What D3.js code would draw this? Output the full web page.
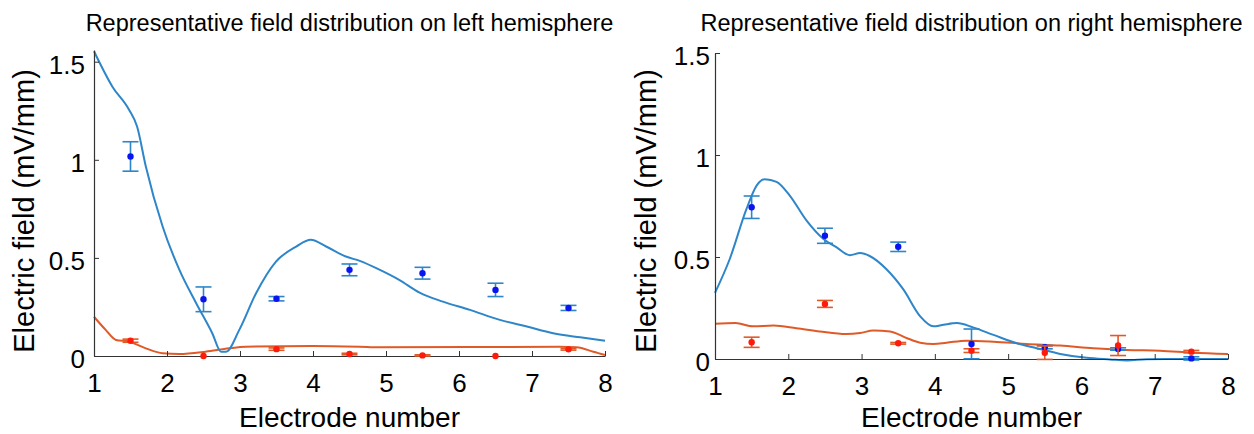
<!DOCTYPE html>
<html><head><meta charset="utf-8">
<script src="https://cdn.jsdelivr.net/npm/d3@7"></script>
<style>
body{margin:0;background:#fff}
svg{display:block}
text{font-family:"Liberation Sans",Arial,Helvetica,sans-serif;fill:#000}
</style>
</head><body>
<svg id="chart" width="1254" height="434"></svg>
<script>
// ---------- DATA ----------
const electrodes = [1.5, 2.5, 3.5, 4.5, 5.5, 6.5, 7.5];
const xTickValues = [1, 2, 3, 4, 5, 6, 7, 8];
const yTickValues = [0, 0.5, 1, 1.5];
const titles = ["Representative field distribution on left hemisphere",
                "Representative field distribution on right hemisphere"];
const xLabel = "Electrode number";
const yLabel = "Electric field (mV/mm)";

// Left hemisphere: simulated curves
const leftBlueX = [1.0,1.25,1.48,1.59,1.71,1.94,2.17,2.40,2.62,2.74,2.81,2.99,3.22,3.49,3.77,3.97,4.18,4.45,4.64,4.91,5.18,5.46,5.78,6.15,6.56,6.93,7.29,7.66,8.0];
const leftBlueY = [1.553,1.374,1.255,1.17,0.966,0.66,0.439,0.269,0.116,0.022,0.022,0.133,0.32,0.48,0.558,0.592,0.558,0.507,0.485,0.44,0.388,0.323,0.277,0.235,0.184,0.150,0.116,0.095,0.078];
const leftOrangeX = [1.0,1.16,1.30,1.48,1.71,1.94,2.17,2.53,2.85,3.08,3.99,4.64,4.91,7.38,7.61,7.84,8.0];
const leftOrangeY = [0.20,0.133,0.082,0.073,0.039,0.014,0.010,0.022,0.039,0.047,0.051,0.047,0.044,0.047,0.044,0.022,0.005];
// Left hemisphere: measurements (mean ± error)
const leftBlueMean = [1.017,0.289,0.292,0.439,0.422,0.337,0.245];
const leftBlueErr  = [0.075,0.063,0.011,0.030,0.030,0.034,0.013];
const leftRedMean  = [0.078,0.0,0.035,0.010,0.003,0.0,0.034];
const leftRedErr   = [0.008,0.0,0.006,0.004,0.003,0.0,0.004];

// Right hemisphere: simulated curves
const rightBlueX = [1.0,1.20,1.43,1.57,1.68,1.84,2.02,2.25,2.48,2.66,2.84,2.98,3.11,3.34,3.57,3.80,3.98,4.12,4.30,4.52,4.80,5.12,5.39,5.71,6.07,6.39,6.62,6.89,7.30,8.0];
const rightBlueY = [0.324,0.489,0.736,0.851,0.881,0.868,0.801,0.678,0.588,0.547,0.509,0.519,0.505,0.44,0.341,0.209,0.16,0.168,0.176,0.155,0.118,0.077,0.053,0.025,0.006,-0.002,-0.007,-0.001,0.0,0.0];
const rightOrangeX = [1.0,1.28,1.52,1.80,2.11,2.43,2.79,2.98,3.16,3.39,3.62,3.80,3.98,4.16,4.43,4.80,5.25,5.71,6.16,6.62,7.07,7.52,8.0];
const rightOrangeY = [0.173,0.176,0.16,0.164,0.151,0.135,0.122,0.127,0.14,0.135,0.102,0.08,0.074,0.08,0.09,0.085,0.074,0.066,0.053,0.044,0.041,0.031,0.025];
// Right hemisphere: measurements
const rightBlueMean = [0.744,0.604,0.55,0.074,0.058,0.049,0.003];
const rightBlueErr  = [0.055,0.037,0.023,0.073,0.008,0.006,0.008];
const rightRedMean  = [0.082,0.27,0.077,0.041,0.031,0.066,0.036];
const rightRedErr   = [0.025,0.017,0.004,0.009,0.033,0.049,0.006];

// ---------- STYLE ----------
const BLUE_LINE = "#2e86c9", ORANGE_LINE = "#e05a28";
const BLUE_DOT = "#0a14f0", RED_DOT = "#ff1a0a";
const AXIS = "#333333";

const svg = d3.select("#chart");

function drawPanel(p) {
  const x = d3.scaleLinear().domain([1, 8]).range([p.x0, p.x1]);
  const y = d3.scaleLinear().domain([0, p.ymax]).range([p.yBottom, p.yTop]);
  const g = svg.append("g");

  const line = d3.line().x(d => x(d[0])).y(d => y(d[1])).curve(d3.curveMonotoneX);

  g.append("path").datum(d3.zip(p.orangeX, p.orangeY)).attr("d", line)
    .attr("fill", "none").attr("stroke", ORANGE_LINE).attr("stroke-width", 2);
  g.append("path").datum(d3.zip(p.blueX, p.blueY)).attr("d", line)
    .attr("fill", "none").attr("stroke", BLUE_LINE).attr("stroke-width", 2);

  // axes
  const xa = g.append("g").attr("transform", `translate(0,${p.yBottom})`)
    .call(d3.axisBottom(x).tickValues(xTickValues).tickSize(-5).tickSizeOuter(0).tickPadding(18).tickFormat(d3.format("d")));
  const ya = g.append("g").attr("transform", `translate(${p.x0},0)`)
    .call(d3.axisLeft(y).tickValues(yTickValues).tickSize(-5).tickSizeOuter(0).tickPadding(p.yPad).tickFormat(v => String(v)));
  [xa, ya].forEach(a => {
    a.selectAll("path.domain").attr("stroke", AXIS).attr("stroke-width", 1.2);
    a.selectAll(".tick line").attr("stroke", AXIS).attr("stroke-width", 1);
    a.selectAll(".tick text").attr("font-family", '"Liberation Sans",Arial,sans-serif')
      .attr("font-size", 26).attr("fill", "#000");
  });
  xa.selectAll(".tick text").attr("dy", "0.71em");
  ya.selectAll(".tick text").attr("dy", "0.46em");

  // error bars
  function errBars(mean, err, color, dotColor) {
    const eg = g.append("g");
    electrodes.forEach((e, i) => {
      const cx = x(e);
      const top = y(mean[i] + err[i]), bot = y(mean[i] - err[i]);
      if (err[i] > 0) {
        eg.append("line").attr("x1", cx).attr("x2", cx).attr("y1", top).attr("y2", bot)
          .attr("stroke", color).attr("stroke-width", 1.6);
        [top, bot].forEach(yy => eg.append("line").attr("x1", cx - 8).attr("x2", cx + 8)
          .attr("y1", yy).attr("y2", yy).attr("stroke", color).attr("stroke-width", 1.6));
      }
      eg.append("circle").attr("cx", cx).attr("cy", y(mean[i])).attr("r", 3.2).attr("fill", dotColor);
    });
  }
  errBars(p.blueMean, p.blueErr, BLUE_LINE, BLUE_DOT);
  errBars(p.redMean, p.redErr, ORANGE_LINE, RED_DOT);

  // labels
  svg.append("text").attr("x", (p.x0 + p.x1) / 2).attr("y", 31).attr("text-anchor", "middle")
    .attr("font-size", 23.5).text(p.title);
  svg.append("text").attr("x", (p.x0 + p.x1) / 2).attr("y", p.xLabelY).attr("text-anchor", "middle")
    .attr("font-size", 28).text(xLabel);
  svg.append("text").attr("transform", `translate(${p.yLabelX},211) rotate(-90)`).attr("text-anchor", "middle")
    .attr("font-size", 29).text(yLabel);
}

drawPanel({
  x0: 94, x1: 605, yBottom: 356, yTop: 356 - 1.56 * 196.2, ymax: 1.56, yPad: 9,
  blueX: leftBlueX, blueY: leftBlueY, orangeX: leftOrangeX, orangeY: leftOrangeY,
  blueMean: leftBlueMean, blueErr: leftBlueErr, redMean: leftRedMean, redErr: leftRedErr,
  title: titles[0], xLabelY: 427, yLabelX: 34
});
drawPanel({
  x0: 715, x1: 1228, yBottom: 359, yTop: 53, ymax: 1.5, yPad: 5,
  blueX: rightBlueX, blueY: rightBlueY, orangeX: rightOrangeX, orangeY: rightOrangeY,
  blueMean: rightBlueMean, blueErr: rightBlueErr, redMean: rightRedMean, redErr: rightRedErr,
  title: titles[1], xLabelY: 427, yLabelX: 656
});
</script>
</body></html>
